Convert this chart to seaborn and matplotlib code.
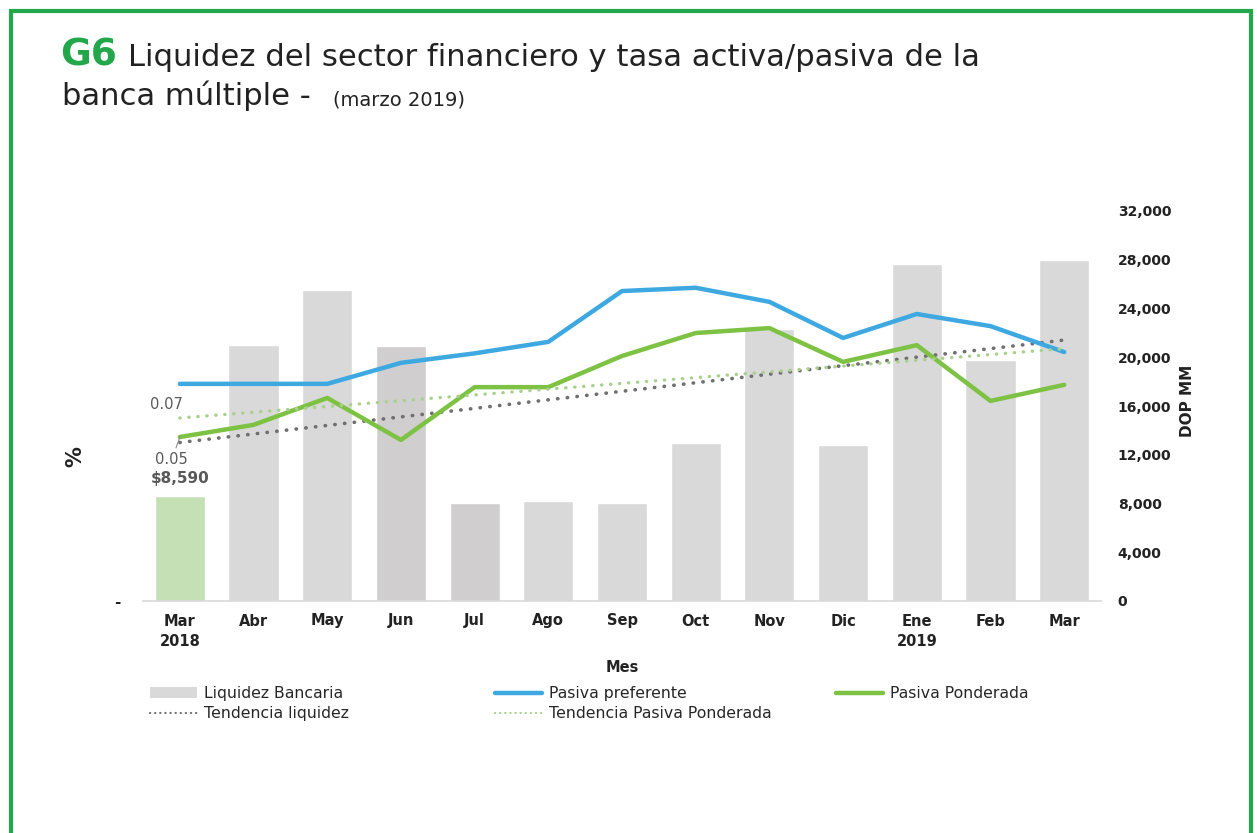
import numpy as np
import pandas as pd
import seaborn as sns
import matplotlib.pyplot as plt
from matplotlib.patches import Rectangle, Patch
from matplotlib.lines import Line2D

# datos
meses = ["Mar\n2018", "Abr", "May", "Jun", "Jul", "Ago", "Sep", "Oct", "Nov", "Dic", "Ene\n2019", "Feb", "Mar"]
liquidez = [8590, 21000, 25500, 20900, 8050, 8200, 8050, 12950, 22300, 12800, 27650, 19750, 27950]
pasiva_preferente = [0.0662, 0.0662, 0.0662, 0.0726, 0.0755, 0.0790, 0.0945, 0.0955, 0.0912, 0.0802, 0.0875, 0.0838, 0.0759]
pasiva_ponderada = [0.0500, 0.0537, 0.0619, 0.0491, 0.0652, 0.0652, 0.0747, 0.0817, 0.0832, 0.0729, 0.0780, 0.0610, 0.0659]
ticks_dop = [0, 4000, 8000, 12000, 16000, 20000, 24000, 28000, 32000]

verde = "#22a84a"
azul = "#3ea9e1"
verde_linea = "#7dc242"
verde_tend = "#a9d18e"
gris_tend = "#6f6f6f"
colores_barras = ["#c5e0b4", "#d9d9d9", "#d9d9d9", "#d0cece", "#d0cece", "#d9d9d9", "#d9d9d9",
                  "#d9d9d9", "#d9d9d9", "#d9d9d9", "#d9d9d9", "#d9d9d9", "#d9d9d9"]

sns.set_style("white")
plt.rcParams["font.family"] = ["DejaVu Sans"]

df = pd.DataFrame({"mes": meses, "liquidez": liquidez,
                   "preferente": pasiva_preferente, "ponderada": pasiva_ponderada})
df["pos"] = np.arange(len(df), dtype=float)

puntos = dict(ls=(0, (0.1, 2.6)), dash_capstyle="round")

fig = plt.figure(figsize=(12.57, 8.33), dpi=100)
ax = fig.add_axes([143 / 1257, 1 - 601 / 833, (1101 - 143) / 1257, 390 / 833])

# barras de liquidez (eje derecho)
sns.barplot(data=df, x="mes", y="liquidez", hue="mes", palette=colores_barras, legend=False,
            saturation=1, width=0.68, ax=ax)
sns.regplot(data=df, x="pos", y="liquidez", scatter=False, ci=None, truncate=True, ax=ax,
            line_kws=dict(color=gris_tend, lw=2.6, **puntos))

# tasas (eje izquierdo)
ax2 = ax.twinx()
sns.lineplot(data=df, x="pos", y="preferente", color=azul, lw=3.2, ax=ax2)
sns.lineplot(data=df, x="pos", y="ponderada", color=verde_linea, lw=3.2, ax=ax2)
sns.regplot(data=df, x="pos", y="ponderada", scatter=False, ci=None, truncate=True, ax=ax2,
            line_kws=dict(color=verde_tend, lw=2.4, **puntos))

ax.set_xlim(-0.5, 12.5)
ax.set_ylim(0, 32000)
ax.yaxis.tick_right()
ax.set_yticks(ticks_dop)
ax.set_yticklabels([f"{t:,}" for t in ticks_dop], fontsize=10, fontweight="bold", color="#222222")
ax.set_xticks(range(len(meses)))
ax.set_xticklabels(meses, fontsize=10.5, fontweight="bold", color="#222222", linespacing=1.5)
ax.tick_params(axis="both", length=0)
ax.tick_params(axis="x", pad=9)
ax.tick_params(axis="y", pad=12)
ax.set_xlabel("")
ax.set_ylabel("")
for s in ["top", "left", "right"]:
    ax.spines[s].set_visible(False)
ax.spines["bottom"].set_color("#d9d9d9")
ax.spines["bottom"].set_linewidth(1.2)
ax.text(0, liquidez[0] + 1500, "$8,590", ha="center", va="center", fontsize=11,
        fontweight="bold", color="#595959")

ax2.set_ylim(0, 0.1189)
ax2.set_xlim(-0.5, 12.5)
ax2.yaxis.tick_left()
ax2.set_yticks([0])
ax2.set_yticklabels(["-"], fontsize=11, fontweight="bold", color="#222222")
ax2.tick_params(axis="y", length=0, pad=16)
ax2.set_xlabel("")
ax2.set_ylabel("")
for s in ax2.spines.values():
    s.set_visible(False)
ax2.text(-0.18, 0.0598, "0.07", ha="center", va="center", fontsize=10.5, color="#595959")
ax2.annotate("0.05", xy=(0, pasiva_ponderada[0]), xytext=(-0.11, 0.0430), textcoords="data",
             ha="center", va="center", fontsize=10.5, color="#595959",
             arrowprops=dict(arrowstyle="-", color="#8c8c8c", lw=0.8, shrinkA=1, shrinkB=0))

# etiquetas de ejes
fig.text(75 / 1257, 1 - 457 / 833, "%", rotation=90, ha="center", va="center",
         fontsize=15, fontweight="bold", color="#222222")
fig.text(1188 / 1257, 1 - 401 / 833, "DOP MM", rotation=90, ha="center", va="center",
         fontsize=11, fontweight="bold", color="#222222")
fig.text(622 / 1257, 1 - 667 / 833, "Mes", ha="center", va="center",
         fontsize=10.5, fontweight="bold", color="#222222")

# leyenda en tres columnas
ley_kw = dict(loc="upper left", frameon=False, fontsize=11.3, handlelength=3.0,
              handletextpad=0.45, labelspacing=0.35, borderaxespad=0, borderpad=0)
fig.legend(handles=[Patch(facecolor="#d9d9d9", edgecolor="none"),
                    Line2D([], [], color=gris_tend, lw=1.6, ls=(0, (0.1, 2.2)), dash_capstyle="round")],
           labels=["Liquidez Bancaria", "Tendencia liquidez"],
           bbox_to_anchor=(150 / 1257, 1 - 686 / 833), **ley_kw)
fig.legend(handles=[Line2D([], [], color=azul, lw=3.2),
                    Line2D([], [], color=verde_tend, lw=1.6, ls=(0, (0.1, 2.2)), dash_capstyle="round")],
           labels=["Pasiva preferente", "Tendencia Pasiva Ponderada"],
           bbox_to_anchor=(495 / 1257, 1 - 686 / 833), **ley_kw)
fig.legend(handles=[Line2D([], [], color=verde_linea, lw=3.2)],
           labels=["Pasiva Ponderada"],
           bbox_to_anchor=(836 / 1257, 1 - 686 / 833), **ley_kw)

# titulo
fig.text(60 / 1257, 1 - 66 / 833, "G6", fontsize=27, fontweight="heavy", color=verde,
         va="baseline")
fig.text(128 / 1257, 1 - 66 / 833, "Liquidez del sector financiero y tasa activa/pasiva de la",
         fontsize=22.1, color="#222222", va="baseline")
fig.text(62 / 1257, 1 - 105 / 833, "banca múltiple - ", fontsize=22.1, color="#222222",
         va="baseline")
fig.text(333 / 1257, 1 - 105 / 833, "(marzo 2019)", fontsize=14, color="#222222", va="baseline")

# marco verde
fig.patches.append(Rectangle((11 / 1257, -0.05), (1251 - 11) / 1257, 1.05 - 11 / 833,
                             transform=fig.transFigure, fill=False, edgecolor=verde, lw=3))

fig.savefig("out.png", dpi=100)
